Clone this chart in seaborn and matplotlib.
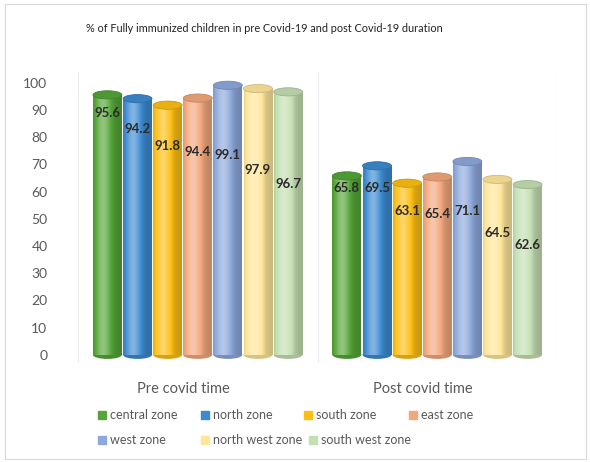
import numpy as np
import pandas as pd
import matplotlib
matplotlib.use("Agg")
import matplotlib.pyplot as plt
import matplotlib.transforms as mtransforms
import seaborn as sns
from matplotlib.patches import Ellipse, Rectangle
from matplotlib.lines import Line2D
from matplotlib.colors import to_rgb

# ---------------- data ----------------
periods = ["Pre covid time", "Post covid time"]
zones = ["central zone", "north zone", "south zone", "east zone",
         "west zone", "north west zone", "south west zone"]
pre_values = [95.6, 94.2, 91.8, 94.4, 99.1, 97.9, 96.7]
post_values = [65.8, 69.5, 63.1, 65.4, 71.1, 64.5, 62.6]
y_ticks = [0, 10, 20, 30, 40, 50, 60, 70, 80, 90, 100]
title = "% of Fully immunized children in pre Covid-19 and post Covid-19 duration"

colors = ["#55A538", "#3C8AD0", "#FDBF14", "#F3A77C",
          "#8DA8DB", "#FFE69A", "#C4DFB2"]

df = pd.DataFrame({
    "period": [periods[0]] * len(zones) + [periods[1]] * len(zones),
    "zone": zones * 2,
    "value": pre_values + post_values,
})

sns.set_theme(style="white")
plt.rcParams["font.family"] = ["Lato", "DejaVu Sans"]

fig = plt.figure(figsize=(5.9, 4.62), dpi=100)
fig.patch.set_facecolor("white")
fig.add_artist(Rectangle((0.008, 0.006), 0.986, 0.985, transform=fig.transFigure,
                         fill=False, edgecolor="#d9d9d9", linewidth=0.8))

ax = fig.add_axes([0.1322, 0.2143, 0.8119, 0.6299])
sns.barplot(data=df, x="period", y="value", hue="zone", order=periods,
            hue_order=zones, palette=colors, width=0.88, gap=0.04,
            legend=False, ax=ax, saturation=1)

ax.set_ylim(-3, 104)
ax.set_xlim(-0.5, 1.5)
ax.set_yticks(y_ticks)
ax.set_yticklabels([str(t) for t in y_ticks], color="#595959", fontsize=10)
ax.tick_params(axis="y", length=0, pad=22)
ax.tick_params(axis="x", length=0, pad=14)
shift = mtransforms.ScaledTranslation(-0.14, 0, fig.dpi_scale_trans)
for lbl in ax.get_xticklabels():
    lbl.set_color("#595959")
    lbl.set_fontsize(10.5)
    lbl.set_transform(lbl.get_transform() + shift)
ax.set_xlabel("")
ax.set_ylabel("")
for s in ax.spines.values():
    s.set_visible(False)
# faint 3D wall edges
for xb in [-0.5, 0.5, 1.5]:
    ax.axvline(xb, color="#ececec", linewidth=0.8, zorder=0)

def shade(rgb, f):
    rgb = np.array(rgb)
    if f < 1:
        return rgb * f
    return rgb + (1 - rgb) * (f - 1)

cap_h = 3.0
bars = [p for p in ax.patches if p.get_height() > 0]
for p in bars:
    x, w, h = p.get_x(), p.get_width(), p.get_height()
    base = to_rgb(p.get_facecolor())
    t = np.linspace(0, 1, 60)
    f = 0.80 + 0.55 * np.exp(-((t - 0.35) / 0.28) ** 2)
    grad = np.array([shade(base, fi) for fi in np.clip(f, 0, 1.35)])
    grad = np.clip(grad, 0, 1)[None, :, :]
    p.set_facecolor("none")
    p.set_edgecolor("none")
    ax.imshow(grad, extent=(x, x + w, 0, h), aspect="auto", zorder=2,
              interpolation="bilinear")
    ax.add_patch(Ellipse((x + w / 2, 0), w, cap_h, facecolor=shade(base, 0.85),
                         edgecolor="none", zorder=1.9))
    ax.add_patch(Ellipse((x + w / 2, h), w, cap_h, facecolor=shade(base, 0.92),
                         edgecolor=shade(base, 0.8), linewidth=0.6, zorder=3))
ax.set_xlim(-0.5, 1.5)
ax.set_ylim(-3, 104)

# data labels (staggered like the 3D perspective)
bars_sorted = sorted(bars, key=lambda b: b.get_x())
for i, b in enumerate(bars_sorted):
    k = i % len(zones)
    h = b.get_height()
    ax.text(b.get_x() + b.get_width() / 2, h * (0.93 - 0.047 * k), f"{h:.1f}",
            ha="center", va="center", fontsize=9.5, fontweight="bold",
            color="#2b2b2b", zorder=5)

fig.text(264 / 590, 0.939, title, ha="center", va="center", fontsize=7.8,
         color="#222222")

# legend: Excel-style flowing entries
legend_pos = [(98, 409), (201, 409), (304, 409), (409, 409),
              (98, 434), (201, 434), (309, 434)]
for c, z, (px, py) in zip(colors, zones, legend_pos):
    h = Line2D([0], [0], marker="s", linestyle="none", markersize=6,
               markerfacecolor=c, markeredgecolor=c)
    leg = fig.legend([h], [z], loc="upper left",
                     bbox_to_anchor=(px / 590, 1 - py / 462),
                     frameon=False, fontsize=9, labelcolor="#595959",
                     handlelength=0.6, handletextpad=0.35,
                     borderaxespad=0, borderpad=0)

fig.savefig("out.png", dpi=100, facecolor="white")
